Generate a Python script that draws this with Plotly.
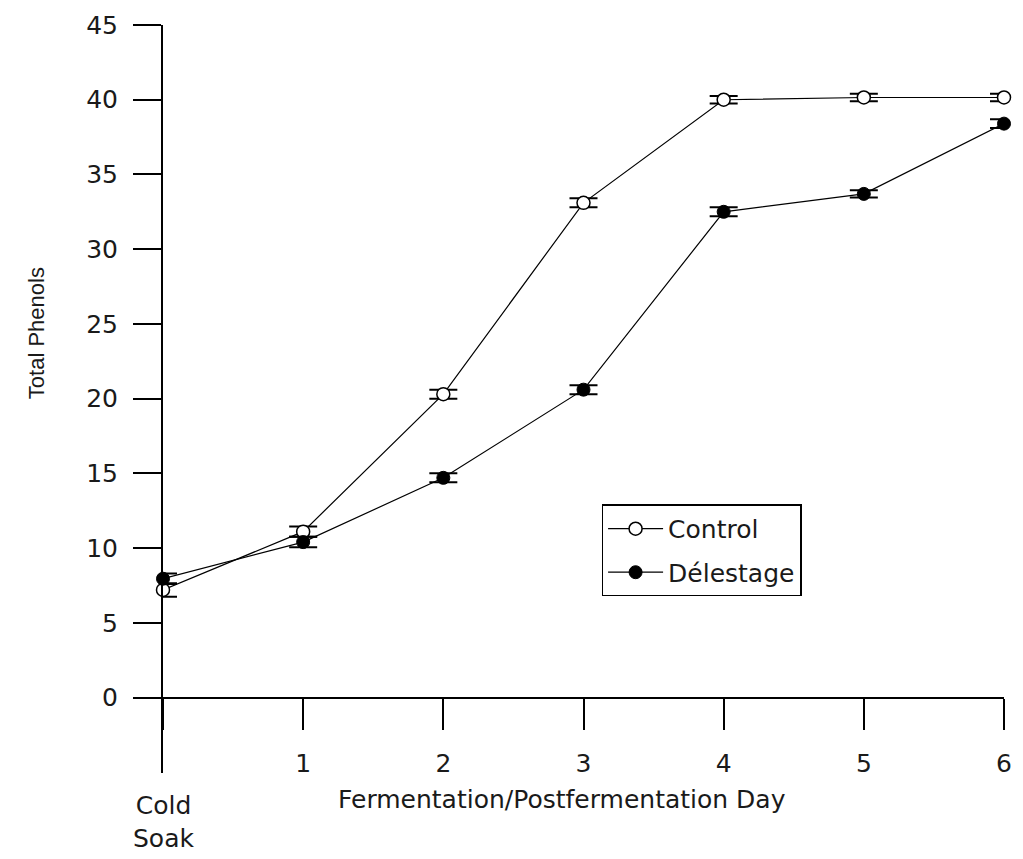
import plotly.graph_objects as go

days = [0, 1, 2, 3, 4, 5, 6]
tick_labels = ["", "1", "2", "3", "4", "5", "6"]
control = [7.2, 11.1, 20.3, 33.1, 40.0, 40.15, 40.15]
control_err = [0.45, 0.35, 0.3, 0.3, 0.25, 0.25, 0.25]
delestage = [7.95, 10.4, 14.7, 20.6, 32.5, 33.7, 38.4]
delestage_err = [0.35, 0.35, 0.3, 0.3, 0.3, 0.25, 0.3]
y_ticks = [0, 5, 10, 15, 20, 25, 30, 35, 40, 45]

FONT = "DejaVu Sans, Arial, sans-serif"
FS = 25
TXT = "#1a1a1a"

Y_MIN, Y_MAX = -5.05, 45

fig = go.Figure()
fig.add_trace(go.Scatter(
    x=days, y=control, name="Control", mode="lines+markers",
    legendgroup="c",
    line=dict(color="black", width=1.2),
    marker=dict(symbol="circle", size=13, color="white", line=dict(color="black", width=1.5)),
    error_y=dict(type="data", array=control_err, visible=True, color="black", thickness=2, width=14),
    cliponaxis=False,
))
fig.add_trace(go.Scatter(
    x=days, y=delestage, name="Délestage", mode="lines+markers",
    legendgroup="d",
    line=dict(color="black", width=1.2),
    marker=dict(symbol="circle", size=13, color="black", line=dict(color="black", width=1)),
    error_y=dict(type="data", array=delestage_err, visible=True, color="black", thickness=2, width=14),
    cliponaxis=False,
))

fig.update_layout(
    width=1023, height=859,
    margin=dict(l=163, r=11, t=20, b=86),
    paper_bgcolor="white", plot_bgcolor="white",
    font=dict(family=FONT, size=FS, color=TXT),
    showlegend=True,
    legend=dict(
        x=0.5215, y=0.359, xanchor="left", yanchor="top",
        bordercolor="black", borderwidth=1.5, bgcolor="white",
        font=dict(family=FONT, size=FS, color=TXT),
        itemwidth=55, traceorder="grouped", tracegroupgap=8,
        entrywidth=150, entrywidthmode="pixels",
    ),
    xaxis=dict(
        range=[0, 6], tickvals=days, ticktext=tick_labels,
        anchor="free", position=(0 - Y_MIN) / (Y_MAX - Y_MIN),
        showline=True, linecolor="black", linewidth=2,
        ticks="outside", ticklen=31, tickwidth=2, tickcolor="black",
        showgrid=False, zeroline=False,
        ticklabelstandoff=12,
        tickfont=dict(family=FONT, size=FS, color=TXT),
    ),
    yaxis=dict(
        range=[Y_MIN, Y_MAX], tickvals=y_ticks,
        showline=True, linecolor="black", linewidth=2,
        ticks="outside", ticklen=28, tickwidth=2, tickcolor="black",
        showgrid=False, zeroline=False,
        ticklabelstandoff=10,
        tickfont=dict(family=FONT, size=FS, color=TXT),
    ),
    annotations=[
        dict(text="Cold<br>Soak", x=0, xref="x", y=-0.021, yref="paper",
             xanchor="center", yanchor="top", showarrow=False,
             font=dict(family=FONT, size=FS, color=TXT)),
        dict(text="Fermentation/Postfermentation Day", x=0.475, xref="paper",
             y=-0.036, yref="paper", xanchor="center", yanchor="middle",
             showarrow=False, font=dict(family=FONT, size=FS, color=TXT)),
        dict(text="Total Phenols", x=-0.151, xref="paper", y=0.588, yref="paper",
             xanchor="center", yanchor="middle", textangle=-90,
             showarrow=False,
             font=dict(family="Liberation Sans, Arial, sans-serif", size=22, color=TXT)),
    ],
)

fig.write_html("out.html")
